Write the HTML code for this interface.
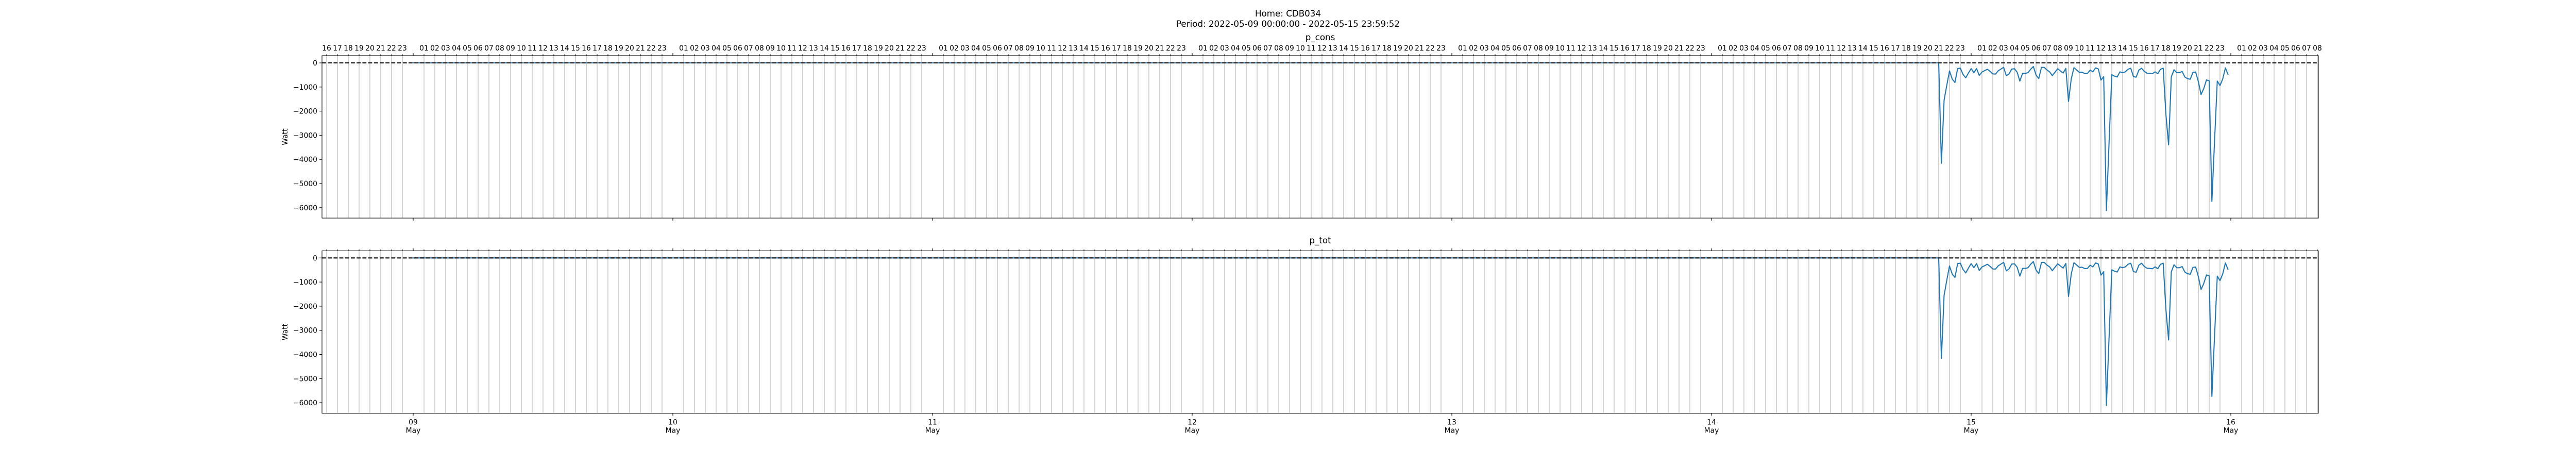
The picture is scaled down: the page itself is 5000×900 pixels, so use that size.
<!DOCTYPE html>
<html><head><meta charset="utf-8">
<style>
html,body{margin:0;padding:0;background:#fff;}
svg{display:block;font-family:"DejaVu Sans","Liberation Sans",sans-serif;}
</style></head>
<body>
<svg id="fig" width="5000" height="900" viewBox="0 0 5000 900" xmlns="http://www.w3.org/2000/svg">
<rect width="5000" height="900" fill="#fff"/>
<text x="2500" y="32" text-anchor="middle" font-size="16.7">Home: CDB034</text>
<text x="2500" y="52" text-anchor="middle" font-size="16.7">Period: 2022-05-09 00:00:00 - 2022-05-15 23:59:52</text>
</svg>
<script>
// ---- data ----
const dayLabels = ["09","10","11","12","13","14","15","16"];
const monthLabel = "May";
const yTicks = [0,-1000,-2000,-3000,-4000,-5000,-6000];
// flat (zero) segment: hours since 2022-05-09 00:00
const flatStartHour = 0;
const flatEndHour = 141;
const flatValue = 0;
// 15-minute readings starting 2022-05-14 21:00 (hour 141)
const seriesStartHour = 141;
const stepMinutes = 15;
const pCons = [0,-4160,-1545,-920,-335,-670,-810,-235,-220,-477,-620,-420,-235,-406,-235,-520,-377,-320,-263,-350,-456,-463,-328,-256,-185,-534,-456,-256,-242,-385,-755,-434,-434,-406,-263,-150,-505,-648,-185,-185,-292,-370,-527,-385,-242,-335,-420,-228,-1595,-670,-200,-292,-392,-385,-442,-434,-300,-370,-207,-250,-712,-570,-6118,-3270,-491,-548,-584,-370,-406,-370,-263,-220,-570,-591,-300,-220,-350,-427,-434,-449,-370,-449,-263,-220,-2130,-3397,-577,-285,-406,-406,-356,-584,-655,-677,-392,-377,-776,-1310,-1061,-705,-741,-5740,-3200,-755,-940,-670,-207,-491];
const pTot = pCons.slice();

// ---- layout ----
const NS = "http://www.w3.org/2000/svg";
const svg = document.getElementById("fig");
const X0 = 625, X1 = 4500;
const xDay0 = 802, pxPerHour = 21;
function xs(h){ return xDay0 + pxPerHour*h; }
const hMin = (X0 - xDay0)/pxPerHour, hMax = (X1 - xDay0)/pxPerHour;

function el(tag, attrs, parent){
  const e = document.createElementNS(NS, tag);
  for (const k in attrs) e.setAttribute(k, attrs[k]);
  (parent||svg).appendChild(e);
  return e;
}
function txt(s, attrs, parent){ const t = el("text", attrs, parent); t.textContent = s; return t; }
function fmt(v){ return v < 0 ? "\u2212" + Math.abs(v) : String(v); }

function drawPanel(cfg){
  const g = el("g", {});
  
  
  const top = cfg.top, bot = cfg.bot, y0 = cfg.y0, ppk = cfg.ppk;
  const ys = v => y0 - v*ppk/1000;
  // clip
  const cid = cfg.name + "-clip";
  const cp = el("clipPath", {id: cid}, g);
  el("rect", {x: X0, y: top, width: X1-X0, height: bot-top}, cp);
  // hour grid
  const grid = el("g", {stroke: "#b0b0b0", "stroke-width": 1.1}, g);
  
  
  for (let h = Math.ceil(hMin); h <= hMax; h++){
    if (((h % 24) + 24) % 24 === 0) continue;
    const x = xs(h);
    el("line", {x1: x, x2: x, y1: top, y2: bot}, grid);
    el("line", {x1: x, x2: x, y1: top, y2: top-2.8, stroke: "#000"}, g);
    if (cfg.topLabels){
      const hh = ((h % 24) + 24) % 24;
      const t = txt(String(hh).padStart(2, "0"), {x: x, y: top-10, "text-anchor": "middle", "font-size": 13.9}, g);
      
      
    }
  }
  // day ticks
  for (let d = 0; d < dayLabels.length; d++){
    const x = xs(d*24);
    if (x < X0 || x > X1) continue;
    el("line", {x1: x, x2: x, y1: top, y2: top-4.9, stroke: "#000", "stroke-width": 1.1}, g);
    el("line", {x1: x, x2: x, y1: bot, y2: bot+4.9, stroke: "#000", "stroke-width": 1.1}, g);
    if (cfg.bottomLabels){
      const t1 = txt(dayLabels[d], {x: x, y: bot+22, "text-anchor": "middle", "font-size": 13.9}, g);
      
      
      const t2 = txt(monthLabel, {x: x, y: bot+38, "text-anchor": "middle", "font-size": 13.9}, g);
      
      
    }
  }
  // y ticks
  yTicks.forEach(v => {
    const y = ys(v);
    el("line", {x1: X0, x2: X0-4.9, y1: y, y2: y, stroke: "#000", "stroke-width": 1.1}, g);
    const t = txt(fmt(v), {x: X0-9, y: y+5, "text-anchor": "end", "font-size": 13.9}, g);
    
    
  });
  // series line
  const pts = [[xs(flatStartHour), ys(flatValue)], [xs(flatEndHour), ys(flatValue)]];
  cfg.values.forEach((v, k) => pts.push([xs(seriesStartHour + k*stepMinutes/60), ys(v)]));
  const line = el("polyline", {points: pts.map(p => p[0].toFixed(2)+","+p[1].toFixed(2)).join(" "),
    fill: "none", stroke: "#1f77b4", "stroke-width": 2.1, "stroke-linejoin": "round", "clip-path": "url(#"+cid+")"}, g);
  
  
  // zero dashed reference
  const zl = el("line", {x1: X0, x2: X1, y1: ys(0), y2: ys(0), stroke: "#000", "stroke-width": 2.1, "stroke-dasharray": "7.8 3.4"}, g);
  
  
  // frame
  const fr = el("rect", {x: X0, y: top, width: X1-X0, height: bot-top, fill: "none", stroke: "#000", "stroke-width": 1.1}, g);
  
  
  // title & ylabel
  const ti = txt(cfg.title, {x: (X0+X1)/2, y: cfg.titleY, "text-anchor": "middle", "font-size": 16.7}, g);
  
  
  const cy = (top+bot)/2;
  const yl = txt("Watt", {x: 558, y: cy, "text-anchor": "middle", "font-size": 13.9, transform: "rotate(-90 558 "+cy+")"}, g);
  
  
}

drawPanel({name: "p-cons", title: "p_cons", values: pCons, top: 108, bot: 423, y0: 122, ppk: 46.8, titleY: 78, topLabels: true, bottomLabels: false});
drawPanel({name: "p-tot", title: "p_tot", values: pTot, top: 486.5, bot: 801.5, y0: 500.3, ppk: 46.8, titleY: 472, topLabels: false, bottomLabels: true});
</script>
</body></html>
